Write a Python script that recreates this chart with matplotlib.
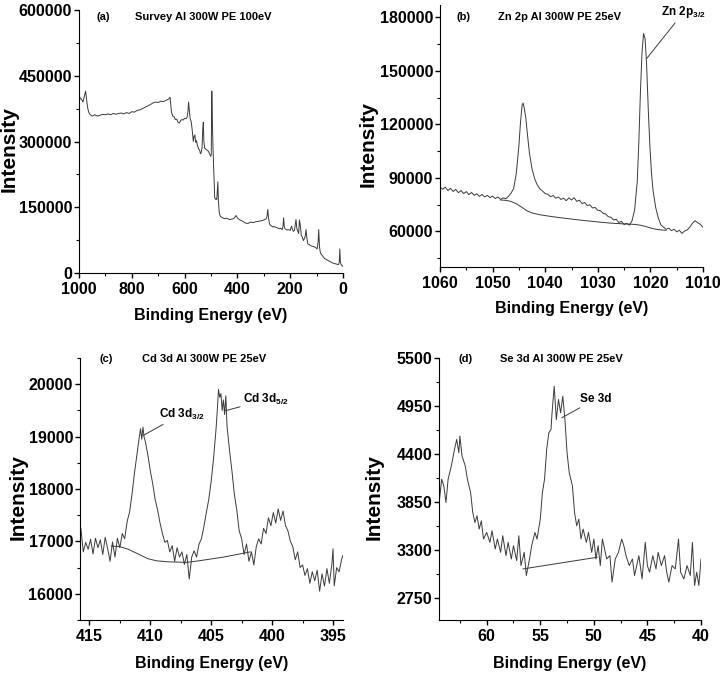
"""
XPS spectra of CdSe/ZnO sample - 4 panel figure (survey, Zn 2p, Cd 3d, Se 3d)
"""
import matplotlib
matplotlib.use("Agg")
import matplotlib.pyplot as plt
from matplotlib.ticker import MultipleLocator

FONT = ["Liberation Sans", "DejaVu Sans"]
plt.rcParams["font.family"] = FONT
plt.rcParams["font.weight"] = "bold"
plt.rcParams["mathtext.default"] = "regular"
LINE = "#3a3a3a"

# ---- (a) survey ----
be_a = [1000, 995, 990, 985, 980, 975, 972, 968, 964, 960, 955, 950, 940, 930, 920, 910,
        900, 890, 880, 870, 860, 850, 840, 830, 820, 810, 800, 790, 780, 770, 760, 750,
        740, 730, 720, 710, 700, 690, 680, 670, 660, 655, 650, 645, 640, 635, 630, 625,
        620, 615, 610, 605, 600, 595, 590, 587, 585, 582, 579, 575, 571, 567, 564, 561,
        558, 555, 551, 547, 543, 540, 537, 534, 531, 529, 527, 524, 520, 515, 510, 505,
        501, 499, 497, 495, 493, 490, 488, 486, 483, 480, 478, 476, 474, 472, 469, 466,
        462, 456, 450, 440, 430, 420, 412, 408, 405, 402, 398, 390, 380, 370, 360, 350,
        340, 330, 320, 310, 300, 292, 288, 285, 282, 278, 272, 266, 260, 254, 248, 242,
        236, 230, 227, 225, 222, 218, 212, 206, 200, 197, 195, 192, 188, 184, 181, 178,
        175, 171, 168, 165, 162, 158, 154, 150, 146, 143, 140, 137, 133, 128, 122, 116,
        110, 104, 98, 94, 92, 89, 86, 82, 76, 70, 64, 58, 52, 46, 40, 34, 28, 22, 17,
        14, 12, 10, 7, 4, 0]
int_a_k = [405, 398, 396, 390, 402, 415, 400, 380, 368, 363, 360, 358, 361, 358, 360, 362,
           361, 363, 361, 364, 362, 364, 365, 363, 366, 364, 368, 367, 371, 372, 375, 378,
           381, 384, 388, 390, 389, 392, 391, 394, 397, 401, 368, 358, 357, 350, 351, 344,
           342, 348, 350, 349, 353, 352, 356, 370, 390, 370, 352, 345, 325, 300, 312, 315,
           298, 302, 290, 283, 280, 272, 275, 285, 330, 344, 300, 285, 283, 280, 278, 271,
           266, 270, 415, 350, 300, 240, 210, 172, 168, 170, 168, 190, 208, 165, 140, 131,
           128, 126, 124, 125, 122, 123, 125, 129, 131, 128, 124, 121, 118, 114, 113, 116,
           115, 117, 118, 119, 121, 123, 128, 145, 125, 111, 108, 105, 106, 104, 103, 101,
           102, 99, 108, 126, 104, 100, 98, 99, 97, 103, 107, 100, 95, 97, 110, 122,
           102, 95, 90, 121, 110, 86, 82, 74, 79, 84, 99, 80, 66, 65, 62, 61,
           60, 58, 55, 72, 99, 60, 47, 42, 38, 33, 31, 29, 27, 25, 23, 22, 21, 20, 19,
           25, 55, 25, 19, 17, 15]

# ---- (b) Zn 2p ----
be_b = [1060.0, 1059.5, 1059.0, 1058.5, 1058.0, 1057.5, 1057.0, 1056.5, 1056.0, 1055.5,
        1055.0, 1054.5, 1054.0, 1053.5, 1053.0, 1052.5, 1052.0, 1051.5, 1051.0, 1050.5,
        1050.0, 1049.5, 1049.0, 1048.5, 1048.0, 1047.5, 1047.0, 1046.5, 1046.0, 1045.5,
        1045.0, 1044.7, 1044.4, 1044.2, 1044.0, 1043.7, 1043.4, 1043.0, 1042.5, 1042.0,
        1041.5, 1041.0, 1040.5, 1040.0, 1039.5, 1039.0, 1038.5, 1038.0, 1037.5, 1037.0,
        1036.5, 1036.0, 1035.5, 1035.0, 1034.5, 1034.0, 1033.5, 1033.0, 1032.5, 1032.0,
        1031.5, 1031.0, 1030.5, 1030.0, 1029.5, 1029.0, 1028.5, 1028.0, 1027.5, 1027.0,
        1026.5, 1026.0, 1025.5, 1025.0, 1024.5, 1024.0, 1023.5, 1023.0, 1022.5, 1022.2,
        1021.9, 1021.6, 1021.3, 1021.0, 1020.7, 1020.4, 1020.1, 1019.8, 1019.5, 1019.0,
        1018.5, 1018.0, 1017.5, 1017.0, 1016.5, 1016.0, 1015.5, 1015.0, 1014.5, 1014.0,
        1013.5, 1013.0, 1012.5, 1012.0, 1011.5, 1011.0, 1010.5, 1010.0]
int_b_k = [85.0, 83.6, 84.8, 82.9, 84.1, 82.4, 83.5, 81.7, 82.9, 81.2,
           82.3, 80.6, 81.8, 80.2, 81.1, 79.6, 80.7, 79.3, 80.2, 78.9,
           79.8, 78.4, 79.3, 77.9, 78.8, 78.3, 79.6, 81.4, 84.0, 92.5,
           108.0, 121.0, 130.5, 132.0, 129.5, 124.0, 115.0, 104.0, 95.0, 89.5,
           86.0, 83.8, 82.6, 81.2, 80.8, 79.4, 80.1, 78.6, 79.3, 77.9,
           78.6, 77.2, 78.8, 77.6, 78.9, 76.8, 77.5, 75.6, 76.2, 74.5,
           74.9, 73.1, 73.4, 71.8, 71.6, 70.1, 69.8, 68.2, 67.9, 66.4,
           66.8, 64.9, 65.6, 63.8, 64.5, 63.5, 65.8, 72.0, 88.0, 110.0,
           138.0, 160.0, 171.0, 168.0, 152.0, 128.0, 108.0, 93.0, 83.0, 73.5,
           67.5, 63.6, 62.4, 61.1, 61.8, 60.4, 61.2, 59.7, 60.6, 58.9,
           60.2, 60.8, 62.4, 64.6, 66.0, 64.8, 63.9, 62.3]
bg_be_b = [1048.5, 1047.5, 1046.5, 1045.5, 1044.5, 1043.5, 1042.5, 1041.0, 1039.0, 1037.0,
           1035.0, 1033.0, 1031.0, 1029.0, 1027.0, 1025.0, 1023.0, 1022.0, 1021.0, 1020.0,
           1019.0, 1018.0, 1017.0]
bg_int_b_k = [77.6, 77.4, 76.8, 75.5, 73.6, 71.6, 70.3, 69.3, 68.4, 67.6,
              66.9, 66.2, 65.6, 65.0, 64.5, 64.2, 63.9, 63.5, 62.8, 61.9,
              61.2, 60.8, 60.6]

# ---- (c) Cd 3d ----
be_c = [415.7, 415.5, 415.3, 415.1, 414.9, 414.7, 414.5, 414.3, 414.1, 413.9,
        413.7, 413.5, 413.3, 413.1, 412.9, 412.7, 412.5, 412.3, 412.1, 411.9,
        411.7, 411.5, 411.3, 411.1, 410.9, 410.8, 410.7, 410.6, 410.5, 410.4,
        410.2, 410.0, 409.8, 409.6, 409.4, 409.2, 409.0, 408.8, 408.6, 408.4,
        408.2, 408.0, 407.8, 407.6, 407.4, 407.2, 407.0, 406.8, 406.6, 406.4,
        406.2, 406.0, 405.8, 405.6, 405.4, 405.2, 405.0, 404.8, 404.6, 404.5,
        404.4, 404.3, 404.2, 404.1, 404.0, 403.9, 403.8, 403.7, 403.5, 403.3,
        403.1, 402.9, 402.7, 402.5, 402.3, 402.1, 401.9, 401.7, 401.5, 401.3,
        401.1, 400.9, 400.7, 400.5, 400.3, 400.1, 399.9, 399.7, 399.5, 399.3,
        399.1, 398.9, 398.7, 398.5, 398.3, 398.1, 397.9, 397.7, 397.5, 397.3,
        397.1, 396.9, 396.7, 396.5, 396.3, 396.1, 395.9, 395.7, 395.5, 395.3,
        395.1, 395.0, 394.9, 394.7, 394.5, 394.3, 394.2]
int_c = [17250, 16800, 16980, 16850, 17040, 16760, 17060, 16880, 17030, 16750,
         17080, 16860, 16620, 16990, 16700, 17060, 16880, 17150, 17050, 17380,
         17560, 17900, 18300, 18650, 19000, 19150, 18950, 19180, 18980, 18900,
         18650, 18350, 18100, 17800, 17600, 17350, 17150, 16980, 17020, 16800,
         16920, 16620, 16880, 16700, 16800, 16560, 16750, 16280, 16700, 16820,
         16700, 16950, 17050, 17280, 17550, 17800, 18150, 18600, 19150, 19500,
         19900, 19750, 19820, 19500, 19700, 19420, 19780, 19200, 18750, 18350,
         17900, 17600, 17200, 17050, 16750, 16950, 16620, 16800, 16550, 16900,
         17050, 16950, 17250, 17150, 17450, 17300, 17550, 17350, 17620, 17400,
         17580, 17300, 17200, 17000, 16900, 16650, 16800, 16500, 16550, 16350,
         16480, 16200, 16420, 16250, 16450, 16050, 16380, 16150, 16480, 16200,
         16550, 16860, 16150, 16500, 16420, 16650, 16730]
bg_be_c = [413.2, 412.5, 411.8, 411.0, 410.2, 409.5, 408.5, 407.0, 406.0, 404.0, 402.0, 401.8]
bg_int_c = [16910, 16900, 16850, 16760, 16670, 16630, 16610, 16600, 16630, 16700, 16790, 16800]

# ---- (d) Se 3d ----
be_d = [64.4, 64.2, 64.0, 63.8, 63.6, 63.3, 63.0, 62.8, 62.6, 62.5, 62.3, 62.0, 61.8,
        61.5, 61.3, 61.1, 60.9, 60.7, 60.5, 60.3, 60.0, 59.7, 59.5, 59.2, 59.0, 58.7,
        58.5, 58.2, 58.0, 57.7, 57.5, 57.2, 57.0, 56.8, 56.5, 56.3, 56.0, 55.8, 55.5,
        55.3, 55.0, 54.8, 54.6, 54.4, 54.2, 54.0, 53.9, 53.7, 53.5, 53.3, 53.1, 52.9,
        52.7, 52.5, 52.3, 52.0, 51.8, 51.6, 51.4, 51.2, 51.0, 50.7, 50.5, 50.2, 50.0,
        49.8, 49.6, 49.4, 49.2, 49.0, 48.8, 48.5, 48.3, 48.0, 47.7, 47.4, 47.2, 47.0,
        46.7, 46.4, 46.2, 46.0, 45.8, 45.5, 45.2, 45.0, 44.8, 44.5, 44.2, 44.0, 43.7,
        43.4, 43.2, 43.0, 42.7, 42.4, 42.1, 41.9, 41.6, 41.3, 41.0, 40.8, 40.6, 40.4,
        40.2, 40.0]
int_d = [3883, 4112, 4036, 3845, 4112, 4264, 4454, 4568, 4416, 4606, 4378, 4264, 4112,
         3960, 3731, 3617, 3693, 3541, 3636, 3427, 3503, 3389, 3522, 3313, 3427, 3275,
         3465, 3237, 3389, 3199, 3351, 3180, 3465, 3123, 3275, 3009, 3199, 3351, 3503,
         3427, 3655, 3960, 4112, 4454, 4644, 4682, 4872, 5177, 4796, 5025, 4872, 5063,
         4796, 4416, 4188, 4036, 3731, 3579, 3655, 3427, 3541, 3389, 3503, 3275, 3427,
         3199, 3351, 3123, 3427, 3313, 3199, 3237, 2933, 3199, 3275, 3427, 3351, 3237,
         3123, 3199, 3009, 3123, 3237, 2971, 3389, 3123, 3047, 3237, 3085, 3275, 3123,
         3237, 3047, 2933, 3123, 3085, 3427, 3047, 2971, 3123, 3009, 3389, 2895, 3047,
         2895, 3199]
bg_be_d = [56.6, 49.7]
bg_int_d = [3085, 3218]


def style_axes(ax, xmaj, xmin, ymaj, ymin, ylab_x, xlab_y):
    for s in ("top", "right"):
        ax.spines[s].set_visible(False)
    ax.xaxis.set_major_locator(MultipleLocator(xmaj))
    ax.xaxis.set_minor_locator(MultipleLocator(xmin))
    ax.yaxis.set_major_locator(MultipleLocator(ymaj))
    ax.yaxis.set_minor_locator(MultipleLocator(ymin))
    ax.tick_params(which="major", direction="out", length=3.5, width=1, labelsize=11.5, pad=1.5)
    ax.tick_params(axis="x", which="major", pad=3)
    ax.tick_params(which="minor", direction="out", length=2, width=0.8)
    ax.set_xlabel("Binding Energy (eV)", fontweight="bold", fontsize=11.5)
    ax.set_ylabel("Intensity", fontweight="bold", fontsize=15)
    ax.yaxis.set_label_coords(ylab_x, 0.47)
    ax.xaxis.set_label_coords(0.5, xlab_y)


def title(ax, tx, ty, tag, text):
    ax.text(tx[0], ty, tag, transform=ax.transAxes, fontweight="bold",
            fontsize=8, va="center", ha="left")
    ax.text(tx[1], ty, text, transform=ax.transAxes, fontweight="bold",
            fontsize=8, va="center", ha="left")


def note(ax, xy, xytext, label):
    ax.annotate(label, xy=xy, xytext=xytext, fontweight="bold", fontsize=8.5,
                va="center", ha="left",
                arrowprops=dict(arrowstyle="-", color=LINE, lw=0.7, shrinkA=0, shrinkB=0))


fig = plt.figure(figsize=(7.2, 6.78), dpi=100)
W, H = 720, 678

def add(l, t, r, b):
    return fig.add_axes([l / W, 1 - b / H, (r - l) / W, (b - t) / H])

ax_a = add(79, 10, 343, 273)
ax_b = add(440, 5, 703, 267)
ax_c = add(80, 358, 343, 620)
ax_d = add(439, 358, 701, 620)

# (a)
ax_a.plot(be_a, [v * 1000 for v in int_a_k], color=LINE, lw=0.7)
ax_a.set_xlim(1000, 0)
ax_a.set_ylim(0, 600000)
style_axes(ax_a, 200, 100, 150000, 75000, -0.23, -0.133)
title(ax_a, (0.068, 0.212), 0.973, "(a)", "Survey Al 300W PE 100eV")

# (b)
ax_b.plot(be_b, [v * 1000 for v in int_b_k], color=LINE, lw=0.7)
ax_b.plot(bg_be_b, [v * 1000 for v in bg_int_b_k], color=LINE, lw=0.7)
ax_b.set_xlim(1060, 1010)
ax_b.set_ylim(40000, 187000)
style_axes(ax_b, 10, 5, 30000, 15000, -0.236, -0.13)
title(ax_b, (0.061, 0.22), 0.954, "(b)", "Zn 2p Al 300W PE 25eV")
note(ax_b, (1020.7, 157000), (1017.9, 183000), r"Zn 2p$_{3/2}$")

# (c)
ax_c.plot(be_c, int_c, color=LINE, lw=0.7)
ax_c.plot(bg_be_c, bg_int_c, color=LINE, lw=0.7)
ax_c.set_xlim(415.77, 394.18)
ax_c.set_ylim(15500, 20500)
style_axes(ax_c, 5, 2.5, 1000, 500, -0.2, -0.137)
title(ax_c, (0.076, 0.236), 0.995, "(c)", "Cd 3d Al 300W PE 25eV")
note(ax_c, (410.6, 19020), (409.3, 19430), r"Cd 3d$_{3/2}$")
note(ax_c, (403.9, 19490), (402.4, 19700), r"Cd 3d$_{5/2}$")

# (d)
ax_d.plot(be_d, int_d, color=LINE, lw=0.7)
ax_d.plot(bg_be_d, bg_int_d, color=LINE, lw=0.7)
ax_d.set_xlim(64.45, 40)
ax_d.set_ylim(2500, 5500)
style_axes(ax_d, 5, 2.5, 550, 275, -0.21, -0.137)
title(ax_d, (0.076, 0.233), 0.995, "(d)", "Se 3d Al 300W PE 25eV")
note(ax_d, (53.0, 4815), (51.3, 5030), "Se 3d")

fig.savefig("out.png", dpi=100)
